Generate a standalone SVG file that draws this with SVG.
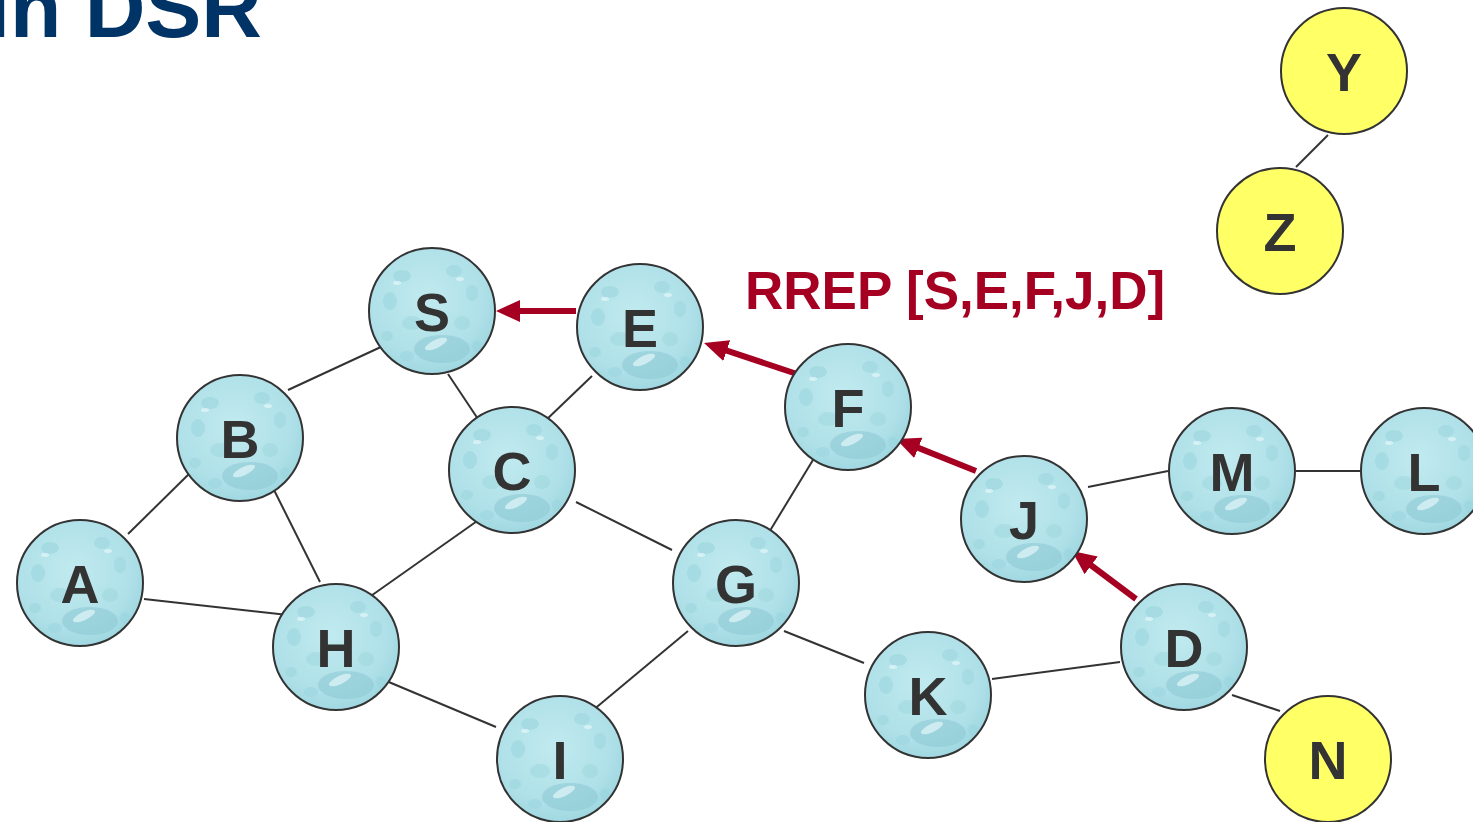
<svg xmlns="http://www.w3.org/2000/svg" xmlns:xlink="http://www.w3.org/1999/xlink" width="1473" height="822" viewBox="0 0 1473 822">
<style>
.edge{stroke:#333333;stroke-width:2;fill:none}
.arr{stroke:#A50021;stroke-width:6;fill:none;marker-end:url(#ah)}
.lbl{font-family:"Liberation Sans",Arial,sans-serif;font-weight:bold;font-size:54px;fill:#333333;text-anchor:middle}
.ring{fill:none;stroke:#333333;stroke-width:2}
.yel{fill:#FFFF66;stroke:#333333;stroke-width:2}
</style>
<defs>
<radialGradient id="bg" cx="0.45" cy="0.4" r="0.65">
<stop offset="0" stop-color="#C0EAEF"/>
<stop offset="0.7" stop-color="#AFE0E8"/>
<stop offset="1" stop-color="#9BD5DE"/>
</radialGradient>
<clipPath id="cc"><circle cx="0" cy="0" r="63"/></clipPath>
<marker id="ah" viewBox="0 0 24 22" refX="4" refY="11" markerWidth="24" markerHeight="22" markerUnits="userSpaceOnUse" orient="auto">
<path d="M0,0 L24,11 L0,22 z" fill="#A50021"/>
</marker>
<g id="bub">
<circle cx="0" cy="0" r="63" fill="url(#bg)"/>
<g clip-path="url(#cc)">
<ellipse cx="-30" cy="-35" rx="9" ry="6" fill="#96D2DB" opacity="0.5"/>
<ellipse cx="-42" cy="-10" rx="7" ry="9" fill="#93D0D9" opacity="0.45"/>
<ellipse cx="22" cy="-40" rx="8" ry="6" fill="#98D3DC" opacity="0.5"/>
<ellipse cx="40" cy="-18" rx="6" ry="8" fill="#96D2DB" opacity="0.45"/>
<ellipse cx="-20" cy="12" rx="10" ry="7" fill="#9AD4DC" opacity="0.45"/>
<ellipse cx="30" cy="12" rx="8" ry="7" fill="#9AD4DC" opacity="0.45"/>
<ellipse cx="-45" cy="25" rx="6" ry="5" fill="#96D2DB" opacity="0.45"/>
<ellipse cx="10" cy="38" rx="28" ry="14" fill="#8DCAD4" opacity="0.6"/>
<ellipse cx="4" cy="33" rx="12" ry="4" fill="#D9F3F6" opacity="0.8" transform="rotate(-25 4 33)"/>
<ellipse cx="-35" cy="-28" rx="4" ry="2" fill="#DDF4F7" opacity="0.8"/>
<ellipse cx="28" cy="-32" rx="4" ry="2" fill="#DDF4F7" opacity="0.8"/>
<ellipse cx="-25" cy="45" rx="7" ry="5" fill="#96D2DB" opacity="0.45"/>
<ellipse cx="45" cy="35" rx="5" ry="6" fill="#96D2DB" opacity="0.45"/>
</g>
<circle cx="0" cy="0" r="63" class="ring"/>
</g>
</defs>
<rect width="1473" height="822" fill="#FFFFFF"/>
<text x="262" y="37" font-family="'Liberation Sans',Arial,sans-serif" font-weight="bold" font-size="84" fill="#003366" text-anchor="end">in DSR</text>
<g id="connectors">
<line class="edge" x1="288" y1="390" x2="383" y2="346"/>
<line class="edge" x1="448" y1="374" x2="480" y2="422"/>
<line class="edge" x1="592" y1="376" x2="544" y2="422"/>
<line class="edge" x1="128" y1="534" x2="192" y2="471"/>
<line class="edge" x1="272" y1="486" x2="320" y2="582"/>
<line class="edge" x1="144" y1="599" x2="288" y2="615"/>
<line class="edge" x1="480" y1="519" x2="368" y2="598"/>
<line class="edge" x1="576" y1="502" x2="672" y2="550"/>
<line class="edge" x1="816" y1="455" x2="768" y2="534"/>
<line class="edge" x1="384" y1="680" x2="496" y2="727"/>
<line class="edge" x1="688" y1="631" x2="592" y2="711"/>
<line class="edge" x1="784" y1="631" x2="864" y2="663"/>
<line class="edge" x1="992" y1="679" x2="1120" y2="662"/>
<line class="edge" x1="1232" y1="695" x2="1280" y2="711"/>
<line class="edge" x1="1088" y1="487" x2="1168" y2="471"/>
<line class="edge" x1="1296" y1="471" x2="1360" y2="471"/>
<line class="edge" x1="1328" y1="135" x2="1296" y2="167"/>
<line class="arr" x1="576" y1="311" x2="516" y2="311"/>
<line class="arr" x1="800" y1="375" x2="723" y2="349.3"/>
<line class="arr" x1="976" y1="471" x2="914.6" y2="446.4"/>
<line class="arr" x1="1136" y1="599" x2="1088" y2="563"/>
</g>
<text x="745" y="309" font-family="'Liberation Sans',Arial,sans-serif" font-weight="bold" font-size="53" fill="#A50021">RREP [S,E,F,J,D]</text>
<g id="node-S" transform="translate(432,311)"><use xlink:href="#bub"/><text class="lbl" y="20">S</text></g>
<g id="node-E" transform="translate(640,327)"><use xlink:href="#bub"/><text class="lbl" y="20">E</text></g>
<g id="node-B" transform="translate(240,438)"><use xlink:href="#bub"/><text class="lbl" y="20">B</text></g>
<g id="node-C" transform="translate(512,470)"><use xlink:href="#bub"/><text class="lbl" y="20">C</text></g>
<g id="node-F" transform="translate(848,407)"><use xlink:href="#bub"/><text class="lbl" y="20">F</text></g>
<g id="node-A" transform="translate(80,583)"><use xlink:href="#bub"/><text class="lbl" y="20">A</text></g>
<g id="node-H" transform="translate(336,647)"><use xlink:href="#bub"/><text class="lbl" y="20">H</text></g>
<g id="node-G" transform="translate(736,583)"><use xlink:href="#bub"/><text class="lbl" y="20">G</text></g>
<g id="node-J" transform="translate(1024,519)"><use xlink:href="#bub"/><text class="lbl" y="20">J</text></g>
<g id="node-M" transform="translate(1232,471)"><use xlink:href="#bub"/><text class="lbl" y="20">M</text></g>
<g id="node-L" transform="translate(1424,471)"><use xlink:href="#bub"/><text class="lbl" y="20">L</text></g>
<g id="node-D" transform="translate(1184,647)"><use xlink:href="#bub"/><text class="lbl" y="20">D</text></g>
<g id="node-K" transform="translate(928,695)"><use xlink:href="#bub"/><text class="lbl" y="20">K</text></g>
<g id="node-I" transform="translate(560,759)"><use xlink:href="#bub"/><text class="lbl" y="20">I</text></g>
<g id="node-N" transform="translate(1328,759)"><circle class="yel" r="63"/><text class="lbl" y="20">N</text></g>
<g id="node-Y" transform="translate(1344,71)"><circle class="yel" r="63"/><text class="lbl" y="20">Y</text></g>
<g id="node-Z" transform="translate(1280,231)"><circle class="yel" r="63"/><text class="lbl" y="20">Z</text></g>
</svg>
